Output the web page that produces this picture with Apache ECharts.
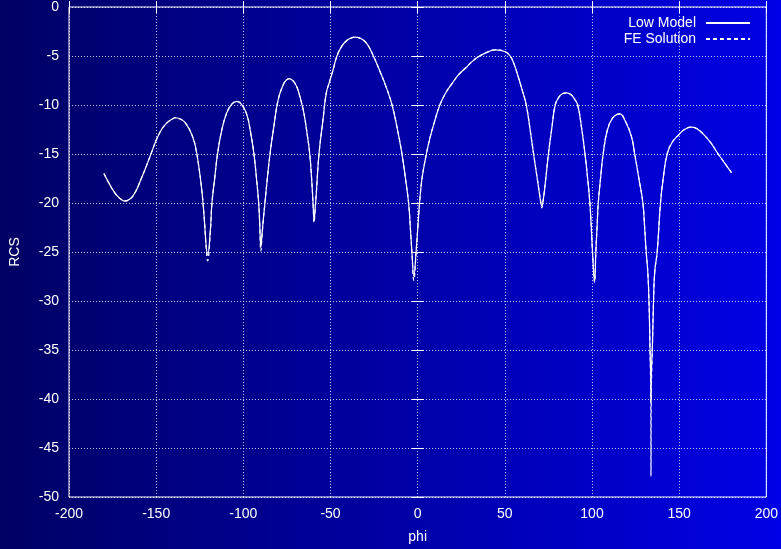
<!DOCTYPE html>
<html>
<head>
<meta charset="utf-8">
<title>RCS vs phi</title>
<script src="https://cdn.jsdelivr.net/npm/echarts@6/dist/echarts.min.js"></script>
<style>
  html, body { margin: 0; padding: 0; }
  .chart { width: 781px; height: 549px; }
</style>
</head>
<body>
<div class="rcs"><div class="chart"></div></div>
<script>
// angles (deg)
var phi = [
  -180, -177, -174, -171, -168, -165, -162, -159, -156, -153, -150, -147.5, -145.5, -143.7, -141, -138.9, -136.5, -134.2, -132.2, -130.4, -128.8,
  -127.5, -125.6, -123.7, -122.4, -121.3, -120.5, -119.0, -118.0, -116.5, -114.8, -112.3, -109.5, -106.6, -103.7, -100.9, -98.0, -95.8, -93.9, -92.4, -91.2, -90.6, -89.95, -89.2, -88.5, -87.6, -86.3, -84.7, -82.5, -80.0, -77.1,
  -75.3, -73.7, -72.0, -70.5, -69.0, -67.6, -65.3, -63.2, -61.9, -60.8, -60.0, -59.4, -58.8, -58.1, -56.6, -54.3, -52.4, -50.5,
  -48.5, -46.3, -43.5, -40.5, -38, -35.8, -33.5, -31, -28.5, -25.4, -22, -18, -14.7, -11.8, -9, -7, -5.2, -4.2, -3.3, -2.2, -0.9, 0.1, 1.1, 2.5, 5.0,
  7, 9.5, 12.7, 16, 19.9, 23.5, 27.5, 31, 35.1, 40, 44.6, 50, 53, 55.1, 58, 60, 62.3, 64.5, 66.5, 68.6, 70.7, 71.2, 71.8, 73.5, 75.0,
  77, 78.9, 81, 83, 85.5, 88, 90, 91.8, 94, 96, 97.5, 98.8, 99.6, 100.3, 101.5, 102.2, 102.9, 103.6, 104.9, 106.4,
  108.9, 112, 115.9, 119, 122.6, 124.5, 126.9, 129.2, 130.2, 131.1, 132.0, 132.7, 133.3, 133.7, 133.85, 134.0, 134.6, 135.3, 136.0, 137.4, 139.3, 141, 143.1, 146, 150, 153, 156.8, 160, 164, 168.2, 172, 176, 180
];
// Low Model
var lowModel = [
  -17.0, -18.0, -18.9, -19.5, -19.8, -19.6, -18.9, -17.7, -16.4, -15.0, -13.6, -12.67, -12.15, -11.8, -11.45, -11.3, -11.4, -11.65, -12.1, -12.67, -13.4,
  -14.2, -16.2, -18.9, -21.6, -24.4, -25.3, -23.0, -20.0, -17.6, -15.0, -12.5, -10.8, -9.9, -9.62, -9.96, -10.98, -12.84, -15.0, -17.6, -20.0, -22.0, -24.5, -23.0, -21.6, -20.0, -17.6, -15.0, -12.2, -9.45, -7.93,
  -7.45, -7.32, -7.45, -7.76, -8.3, -9.1, -10.8, -13.2, -15.0, -17.6, -20.0, -21.8, -20.6, -18.9, -15.0, -11.5, -8.77, -7.6,
  -6.4, -5.0, -4.0, -3.4, -3.15, -3.08, -3.15, -3.4, -3.9, -5.0, -6.4, -8.2, -10.0, -12.3, -15.0, -17.5, -20.0, -22.5, -25.0, -27.5, -25.0, -22.5, -20.0, -17.5, -15.0,
  -13.4, -11.8, -10.0, -8.8, -7.76, -6.9, -6.23, -5.6, -5.05, -4.6, -4.37, -4.54, -5.0, -5.73, -7.3, -8.5, -10.0, -12.5, -15.0, -17.5, -20.0, -20.3, -20.0, -17.5, -15.0,
  -12.3, -10.0, -9.2, -8.85, -8.77, -8.95, -9.4, -10.0, -12.3, -15.0, -17.5, -20.0, -22.5, -25.0, -28.0, -25.0, -22.5, -20.0, -17.5, -15.0,
  -12.5, -11.3, -10.9, -11.6, -13.2, -15.0, -17.5, -20.0, -22.5, -25.0, -27.0, -30.0, -35.0, -37.5, -40.3, -37.5, -35.0, -30.0, -27.0, -25.0, -20.0, -17.3, -15.0, -13.8, -13.0, -12.5, -12.26, -12.4, -13.0, -13.86, -14.9, -15.9, -16.9
];
// FE Solution
var feSolution = [
  -17.0, -18.0, -18.9, -19.5, -19.8, -19.6, -18.9, -17.7, -16.4, -15.0, -13.6, -12.67, -12.15, -11.8, -11.45, -11.3, -11.4, -11.65, -12.1, -12.67, -13.4,
  -14.2, -16.2, -18.9, -21.6, -24.6, -25.9, -23.2, -20.0, -17.6, -15.0, -12.5, -10.8, -9.9, -9.62, -9.96, -10.98, -12.84, -15.0, -17.6, -20.0, -22.2, -24.9, -23.2, -21.6, -20.0, -17.6, -15.0, -12.2, -9.45, -7.93,
  -7.45, -7.32, -7.45, -7.76, -8.3, -9.1, -10.8, -13.2, -15.0, -17.6, -20.0, -22.0, -20.6, -18.9, -15.0, -11.5, -8.77, -7.6,
  -6.4, -5.0, -4.0, -3.4, -3.15, -3.08, -3.15, -3.4, -3.9, -5.0, -6.4, -8.2, -10.0, -12.3, -15.0, -17.5, -20.0, -22.5, -25.0, -27.9, -25.0, -22.5, -20.0, -17.5, -15.0,
  -13.4, -11.8, -10.0, -8.8, -7.76, -6.9, -6.23, -5.6, -5.05, -4.6, -4.37, -4.54, -5.0, -5.73, -7.3, -8.5, -10.0, -12.5, -15.0, -17.5, -20.0, -20.5, -20.0, -17.5, -15.0,
  -12.3, -10.0, -9.2, -8.85, -8.77, -8.95, -9.4, -10.0, -12.3, -15.0, -17.5, -20.0, -22.5, -25.0, -28.1, -25.0, -22.5, -20.0, -17.5, -15.0,
  -12.5, -11.3, -10.9, -11.6, -13.2, -15.0, -17.5, -20.0, -22.5, -25.0, -27.0, -30.0, -35.0, -40.0, -47.9, -40.0, -35.0, -30.0, -27.0, -25.0, -20.0, -17.3, -15.0, -13.8, -13.0, -12.5, -12.26, -12.4, -13.0, -13.86, -14.9, -15.9, -16.9
];
var seriesNames = ['Low Model', 'FE Solution'];

// RCS 折线图
(function(){
  var myChart = echarts.init(document.querySelector(".rcs .chart"));
  var font = "'Liberation Sans', Arial, sans-serif";
  function pairs(vals){
    return phi.map(function(p, i){ return [p, vals[i]]; });
  }
  var gridLine = { show: true, lineStyle: { color: "rgba(255,255,255,.75)", type: [1, 2], width: 1 } };
  var tick = { show: true, inside: true, length: 6, lineStyle: { color: "#fff" } };
  var option = {
    backgroundColor: {
      type: "linear", x: 0, y: 0, x2: 1, y2: 0,
      colorStops: [{ offset: 0, color: "#000064" }, { offset: 1, color: "#0000e6" }]
    },
    textStyle: { fontFamily: font },
    animation: false,
    grid: {
      left: 68, right: 12, top: 7, bottom: 50,
      show: true, borderColor: "#fff", borderWidth: 1
    },
    legend: {
      data: seriesNames,
      orient: "vertical",
      align: "right",
      right: 25,
      top: 11,
      itemWidth: 44,
      itemHeight: 14,
      itemGap: 2,
      itemStyle: { opacity: 0 },
      textStyle: { color: "#fff", fontSize: 14, fontFamily: font, padding: [0, 5, 0, 0] }
    },
    xAxis: [
      {
        type: "value",
        min: -200, max: 200, interval: 50,
        name: "phi", nameLocation: "middle", nameGap: 33,
        nameTextStyle: { color: "#fff", fontSize: 14, fontFamily: font },
        axisLine: { show: false },
        axisTick: tick,
        axisLabel: { color: "#fff", fontSize: 14, margin: 10, fontFamily: font },
        splitLine: gridLine
      },
      {
        type: "value", position: "top",
        min: -200, max: 200, interval: 50,
        axisLine: { show: false },
        axisTick: tick,
        axisLabel: { show: false },
        splitLine: { show: false }
      }
    ],
    yAxis: [
      {
        type: "value",
        min: -50, max: 0, interval: 5,
        name: "RCS", nameLocation: "middle", nameGap: 47,
        nameTextStyle: { color: "#fff", fontSize: 14, fontFamily: font },
        axisLine: { show: false },
        axisTick: tick,
        axisLabel: { color: "#fff", fontSize: 14, margin: 10, fontFamily: font },
        splitLine: gridLine
      },
      {
        type: "value", position: "right",
        min: -50, max: 0, interval: 5,
        axisLine: { show: false },
        axisTick: tick,
        axisLabel: { show: false },
        splitLine: { show: false }
      }
    ],
    series: [
      {
        name: seriesNames[0],
        type: "line",
        symbol: "none",
        smooth: 0.45,
        lineStyle: { color: "#fff", width: 1.2 },
        itemStyle: { color: "#fff" },
        data: pairs(lowModel)
      },
      {
        name: seriesNames[1],
        type: "line",
        symbol: "none",
        smooth: 0.45,
        lineStyle: { color: "#fff", width: 1.2, type: [4, 3] },
        itemStyle: { color: "#fff" },
        data: pairs(feSolution)
      }
    ]
  };
  myChart.setOption(option);
  window.addEventListener('resize', function(){
    myChart.resize();
  });
})();
</script>
</body>
</html>
